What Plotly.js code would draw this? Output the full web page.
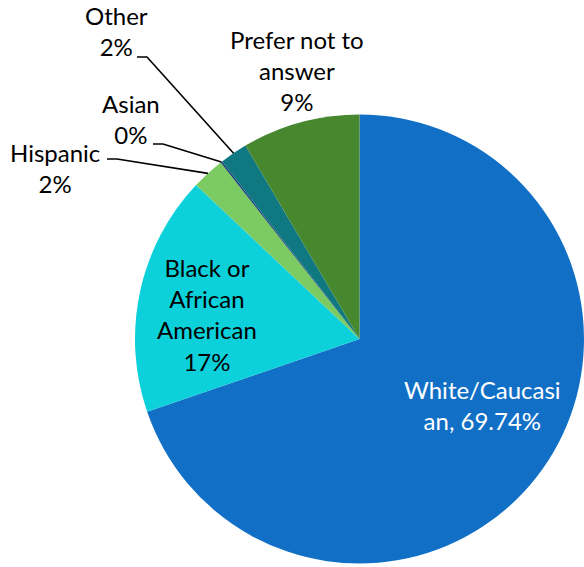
<!DOCTYPE html>
<html><head><meta charset="utf-8">
<script src="https://cdn.plot.ly/plotly-3.0.1.min.js"></script>
<style>html,body{margin:0;padding:0;background:#fff}#chart{width:584px;height:567px}</style>
</head><body><div id="chart"></div>
<script>
const categories = ["White/Caucasian","Black or African American","Hispanic","Asian","Other","Prefer not to answer"];
const values = [69.74, 17.28, 2.37, 0.13, 2.0, 8.48];
const labelText = ["White/Caucasi<br>an, 69.74%","Black or<br>African<br>American<br>17%","Hispanic<br>2%","Asian<br>0%","Other<br>2%","Prefer not to<br>answer<br>9%"];
const colors = ["#1170C6","#0CD0DA","#7CCA62","#1E3F7C","#107880","#47882F"];

const W = 584, H = 567;
const L = 135, R = 584, T = 114, B = 564;
const cx = (L + R) / 2, cy = (T + B) / 2, rad = Math.min(R - L, B - T) / 2;
const fx = p => p / W, fy = p => 1 - p / H;

// label anchor positions (px) and leader line start (px) for small slices
const labelPos = [[482,405],[207,314],[55,168],[131,119],[116,31],[297,70]];
const leaderStart = [null, null, [107,159], [153,144], [137,57], null];
const fontColors = ["#ffffff","#000000","#000000","#000000","#000000","#000000"];

const total = values.reduce((a,b)=>a+b,0);
let cum = 0;
const midAng = values.map(v => { const a = (cum + v/2) / total * 2 * Math.PI; cum += v; return a; });

const annotations = categories.map((c,i) => ({
  text: labelText[i], x: fx(labelPos[i][0]), y: fy(labelPos[i][1]),
  xref: 'paper', yref: 'paper', xanchor: 'center', yanchor: 'middle',
  showarrow: false, align: 'center',
  font: {family: 'Lato, "Open Sans", sans-serif', size: 24, color: fontColors[i]}
}));

const shapes = [];
leaderStart.forEach((s,i) => {
  if (!s) return;
  const ex = cx + rad * Math.sin(midAng[i]);
  const ey = cy - rad * Math.cos(midAng[i]);
  const path = `M ${fx(s[0])} ${fy(s[1])} L ${fx(s[0]+10)} ${fy(s[1])} L ${fx(ex)} ${fy(ey)}`;
  shapes.push({type:'path', xref:'paper', yref:'paper', path, line:{color:'#000', width:1.6}});
});

const trace = {
  type: 'pie', labels: categories, values: values, sort: false,
  direction: 'clockwise', rotation: 0, textinfo: 'none', hoverinfo: 'label+percent',
  marker: {colors: colors, line: {width: 0}},
  domain: {x: [L / W, R / W], y: [1 - B / H, 1 - T / H]},
  showlegend: false
};

Plotly.newPlot('chart', [trace], {
  width: W, height: H, margin: {l:0, r:0, t:0, b:0},
  paper_bgcolor: '#ffffff', showlegend: false,
  annotations, shapes
}, {displayModeBar: false, staticPlot: true});
</script>
</body></html>
